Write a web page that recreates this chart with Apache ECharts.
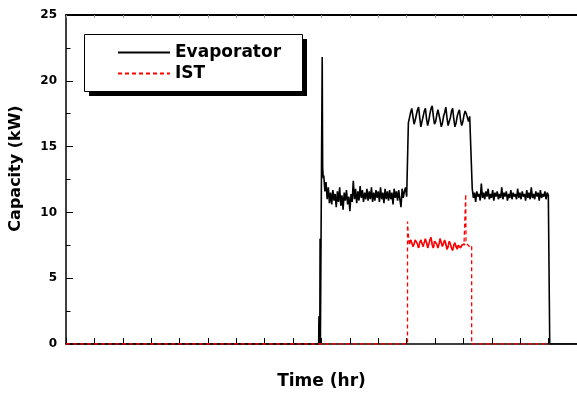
<!DOCTYPE html>
<html>
<head>
<meta charset="utf-8">
<script src="https://cdn.jsdelivr.net/npm/echarts@6/dist/echarts.min.js"></script>
<style>html,body{margin:0;padding:0;background:#fff}#c{width:577px;height:396px}</style>
</head>
<body>
<div id="c"></div>
<script>
// ---- data (time in hours, capacity in kW) ----
const xMin = 0, xMax = 18, xInterval = 1;
const yMin = 0, yMax = 25, yInterval = 5;
const step = 0.04;

// Evaporator: start-up transient
const evapLeadTime  = [0, 8.90, 8.91, 8.92, 8.93, 8.94, 8.95, 8.96, 9.01, 9.025, 9.04, 9.06];
const evapLeadValue = [0, 0,    2.1,  0,    2.1,  0,    8.0,  0,    0,    21.8,  13.5, 12.6];
// Evaporator: first plateau (starts 9.08 h)
const evapLowStart = 9.08;
const evapLow = [12.8, 11.6, 12.3, 11.0, 11.9, 10.7, 11.5, 10.6, 11.7, 10.9, 11.4, 10.4, 11.6, 10.8, 11.9, 10.5,
  11.3, 10.2, 11.5, 10.9, 11.7, 10.6, 11.2, 10.1, 11.4, 10.8, 12.4, 11.0, 11.8, 10.7, 11.6, 10.9, 12.0, 11.1,
  11.7, 10.8, 11.5, 11.0, 11.8, 10.9, 11.6, 11.0, 11.9, 10.8, 11.5, 10.9, 11.7, 11.1, 11.6, 10.8, 11.9, 11.0,
  11.5, 10.7, 11.8, 11.0, 11.6, 10.9, 11.7, 11.0, 11.5, 10.6, 11.8, 11.1, 11.6, 10.9, 11.7, 11.0, 10.4, 11.8,
  11.1, 11.6, 11.9, 11.2];
// Evaporator: high plateau (starts 12.06 h)
const evapHighStart = 12.06;
const evapHigh = [16.8, 17.2, 17.6, 17.9, 17.3, 16.7, 17.0, 17.4, 17.8, 18.0, 17.2, 16.5, 16.9, 17.3, 17.7, 17.9,
  17.1, 16.6, 17.0, 17.5, 17.9, 18.1, 17.3, 16.7, 16.9, 17.4, 17.8, 17.9, 17.0, 16.5, 16.8, 17.3, 17.6, 18.0,
  17.2, 16.6, 16.9, 17.2, 17.7, 17.9, 17.1, 16.5, 16.8, 17.3, 17.6, 17.8, 17.0, 16.6, 16.9, 17.4, 17.7, 17.5,
  17.2, 16.9, 17.3, 17.2];
// Evaporator: second plateau (starts 14.31 h)
const evapMidStart = 14.31;
const evapMid = [11.8, 11.1, 11.5, 10.8, 11.6, 11.2, 11.4, 10.9, 12.2, 11.1, 11.5, 11.0, 11.6, 11.2, 11.8, 11.0,
  11.4, 11.1, 11.7, 10.9, 11.5, 11.2, 11.6, 11.0, 11.4, 11.1, 11.9, 11.0, 11.5, 11.2, 11.6, 10.9, 11.4, 11.1,
  11.7, 11.0, 11.5, 11.2, 11.4, 11.0, 11.8, 11.1, 11.5, 11.0, 11.6, 11.2, 11.4, 10.9, 11.7, 11.1, 11.5, 11.0,
  11.9, 11.1, 11.4, 11.0, 11.6, 11.2, 11.5, 10.9, 11.7, 11.1, 11.4, 11.2, 11.6, 11.0, 11.5, 11.3];
const evapTailTime  = [17.04, 17.04, 18];
const evapTailValue = [11.2, 0, 0];

// IST
const istLeadTime  = [0, 12.03, 12.03, 12.05, 12.08];
const istLeadValue = [0, 0,     9.3,   8.5,   7.9];
const istZigStart = 12.10;
const istZig = [7.6, 7.9, 7.7, 7.4, 7.6, 7.9, 8.0, 7.6, 7.3, 7.7, 7.9, 7.8, 7.4, 7.5, 8.0, 7.7, 7.3, 7.6, 7.9,
  8.1, 7.5, 7.3, 7.8, 7.9, 7.6, 7.3, 7.6, 8.0, 7.7, 7.4, 7.5, 7.9, 7.6, 7.2, 7.4, 7.8, 7.6, 7.3, 7.1, 7.5, 7.7,
  7.4, 7.2, 7.5, 7.6, 7.3, 7.5, 7.4, 7.6, 7.5];
const istTailTime  = [14.08, 14.08, 14.09, 14.13, 14.17, 14.21, 14.25, 14.29, 14.29, 17.03];
const istTailValue = [7.6,   11.4,  7.8,   7.6,   7.5,   7.4,   7.5,   7.5,   0,     0];

// ---- build series data ----
function pairs(t, v) { return t.map((x, i) => [x, v[i]]); }
function stepped(start, v) { return v.map((y, i) => [+(start + i * step).toFixed(3), y]); }

const evapData = [].concat(
  pairs(evapLeadTime, evapLeadValue),
  stepped(evapLowStart, evapLow),
  stepped(evapHighStart, evapHigh),
  stepped(evapMidStart, evapMid),
  pairs(evapTailTime, evapTailValue)
);
const istZigData = stepped(istZigStart, istZig);
const istData = [].concat(
  pairs(istLeadTime, istLeadValue),
  istZigData,
  pairs(istTailTime, istTailValue)
);
const istSolid = [].concat(pairs(istLeadTime.slice(-1), istLeadValue.slice(-1)), istZigData,
  pairs(istTailTime.slice(0, 1), istTailValue.slice(0, 1)));

const FONT = '"DejaVu Sans", "Liberation Sans", Arial, sans-serif';
const chart = echarts.init(document.getElementById('c'), null, { renderer: 'canvas' });
chart.setOption({
  animation: false,
  backgroundColor: '#fff',
  grid: { left: 66, top: 15, width: 512, height: 329, containLabel: false },
  legend: {
    left: 117, top: 44, orient: 'vertical', padding: 0,
    itemWidth: 52, itemHeight: 14, itemGap: 4,
    data: ['Evaporator', 'IST'],
    itemStyle: { opacity: 0 },
    textStyle: { fontFamily: FONT, fontWeight: 'bold', fontSize: 17, color: '#000', lineHeight: 17 },
    z: 10
  },
  graphic: [
    { type: 'rect', z: 5, shape: { x: 89, y: 39, width: 218, height: 57 }, style: { fill: '#000' } },
    { type: 'rect', z: 6, shape: { x: 84.5, y: 34.5, width: 218, height: 57 }, style: { fill: '#fff', stroke: '#000', lineWidth: 1 } }
  ],
  xAxis: [{
    type: 'value', min: xMin, max: xMax, interval: xInterval, position: 'bottom',
    name: 'Time (hr)', nameLocation: 'middle', nameGap: 29,
    nameTextStyle: { fontFamily: FONT, fontWeight: 'bold', fontSize: 17, color: '#000' },
    axisLine: { show: true, onZero: false, lineStyle: { color: '#000', width: 1.5 } },
    axisTick: { show: true, inside: true, length: 6, lineStyle: { color: '#000', width: 1 } },
    axisLabel: { show: false },
    splitLine: { show: false }
  }, {
    type: 'value', min: xMin, max: xMax, interval: xInterval, position: 'top',
    axisLine: { show: true, onZero: false, lineStyle: { color: '#000', width: 2 } },
    axisTick: { show: true, inside: true, length: 3, lineStyle: { color: '#999', width: 1 } },
    axisLabel: { show: false },
    splitLine: { show: false }
  }],
  yAxis: {
    type: 'value', min: yMin, max: yMax, interval: yInterval,
    name: 'Capacity (kW)', nameLocation: 'middle', nameGap: 42,
    nameTextStyle: { fontFamily: FONT, fontWeight: 'bold', fontSize: 16, color: '#000', padding: [0, 0, 0, 22] },
    axisLine: { show: true, onZero: false, lineStyle: { color: '#000', width: 1.5 } },
    axisTick: { show: true, inside: true, length: 7, lineStyle: { color: '#000', width: 1 } },
    minorTick: { show: true, splitNumber: 2, length: 4.5, lineStyle: { color: '#000', width: 1 } },
    axisLabel: { fontFamily: FONT, fontWeight: 'bold', fontSize: 12, color: '#000', margin: 9 },
    splitLine: { show: false }
  },
  series: [
    { name: 'Evaporator', type: 'line', data: evapData, symbol: 'none', z: 3,
      lineStyle: { color: '#000', width: 1.6 }, itemStyle: { color: '#000' } },
    { name: 'IST', type: 'line', data: istData, symbol: 'none', z: 4,
      lineStyle: { color: '#ff0000', width: 1.3, type: [4, 3] }, itemStyle: { color: '#ff0000' } },
    { name: 'IST', type: 'line', data: istSolid, symbol: 'none', z: 4,
      lineStyle: { color: '#ff0000', width: 1.5 }, itemStyle: { color: '#ff0000' } }
  ]
});
</script>
</body>
</html>
